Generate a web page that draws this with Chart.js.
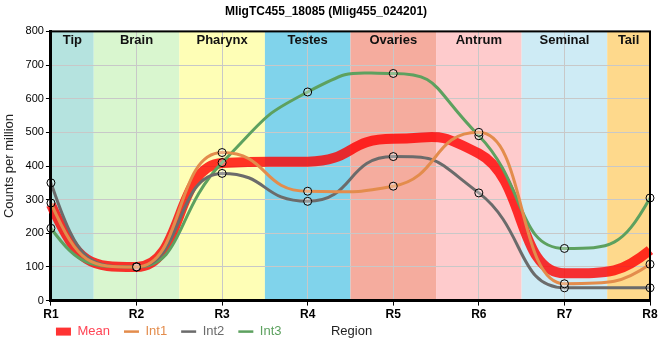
<!DOCTYPE html>
<html>
<head>
<meta charset="utf-8">
<script src="https://cdn.jsdelivr.net/npm/chart.js@4/dist/chart.umd.min.js"></script>
<style>
  html, body { margin: 0; padding: 0; background: #fff; }
  #wrap { width: 660px; height: 360px; }
</style>
</head>
<body>
<div id="wrap"><canvas id="chart"></canvas></div>
<script>
// Datos del gráfico
const regiones = ['R1', 'R2', 'R3', 'R4', 'R5', 'R6', 'R7', 'R8'];
const zonas = ['Tip', 'Brain', 'Pharynx', 'Testes', 'Ovaries', 'Antrum', 'Seminal', 'Tail'];
const coloresZonas = ['#b5e3df', '#d9f6cf', '#fefeb6', '#80d3eb', '#f5ac9e', '#fecbcc', '#ceebf5', '#fed98c'];
const int1 = [290, 100, 440, 325, 340, 500, 50, 108];
const int2 = [350, 100, 378, 295, 428, 320, 38, 38];
const int3 = [215, 100, 410, 620, 675, 490, 155, 305];
const media = [285, 100, 409, 413, 481, 437, 81, 150];
const ticksY = [0, 100, 200, 300, 400, 500, 600, 700, 800];

const fuente = "'Liberation Sans', Arial, sans-serif";
const PAD_LEYENDA = 14;

// Bandas de fondo por región anatómica
const bandasPlugin = {
    id: 'bandas',
    afterLayout(chart) {
        // la leyenda arranca junto al eje Y y comparte fila con el título del eje X
        chart.legend.left = chart.chartArea.left + 5 - PAD_LEYENDA;
        chart.legend.top = chart.chartArea.bottom + 31 - PAD_LEYENDA - 6.5;
    },
    beforeDraw(chart) {
        const { ctx, chartArea, scales } = chart;
        const x = scales.x;
        ctx.save();
        zonas.forEach((z, i) => {
            const x0 = Math.max(chartArea.left, x.getPixelForValue(i - 0.5));
            const x1 = Math.min(chartArea.right, x.getPixelForValue(i + 0.5));
            ctx.fillStyle = coloresZonas[i];
            ctx.fillRect(x0, chartArea.top, x1 - x0, chartArea.bottom - chartArea.top);
        });
        ctx.restore();
    },
    beforeDatasetDraw(chart, args) {
        // curvas más "escalonadas": se alargan los puntos de control del spline monótono
        const meta = args.meta;
        meta.dataset.updateControlPoints(chart.chartArea, meta.iScale.axis);
        const pts = meta.data;
        const n = pts.length;
        const k = 0.55;
        for (let i = 1; i < n - 1; i++) {
            const p = pts[i];
            const dx = p.cp2x - p.x;
            const m = Math.abs(dx) > 1e-6 ? (p.cp2y - p.y) / dx : 0;
            const dPrev = p.x - pts[i - 1].x;
            const dNext = pts[i + 1].x - p.x;
            p.cp1x = p.x - k * dPrev;
            p.cp1y = p.y - k * dPrev * m;
            p.cp2x = p.x + k * dNext;
            p.cp2y = p.y + k * dNext * m;
        }
        // extremos: salida/llegada más pronunciada
        pts[0].cp2y = pts[1].y;
        pts[n - 1].cp1y = pts[n - 2].y;
    },
    afterDraw(chart) {
        const { ctx, chartArea, scales } = chart;
        const x = scales.x;
        ctx.save();
        ctx.font = "bold 13px " + fuente;
        ctx.fillStyle = '#111';
        ctx.textAlign = 'center';
        ctx.textBaseline = 'top';
        zonas.forEach((z, i) => {
            const x0 = Math.max(chartArea.left, x.getPixelForValue(i - 0.5));
            const x1 = Math.min(chartArea.right, x.getPixelForValue(i + 0.5));
            ctx.fillText(z, (x0 + x1) / 2, chartArea.top + 3);
        });
        // marco del área
        ctx.strokeStyle = '#000';
        ctx.lineWidth = 2;
        ctx.strokeRect(chartArea.left, chartArea.top, chartArea.right - chartArea.left, chartArea.bottom - chartArea.top);
        // título del eje X en la misma fila que la leyenda
        ctx.font = "13px " + fuente;
        ctx.fillStyle = '#222';
        ctx.textAlign = 'left';
        ctx.textBaseline = 'middle';
        ctx.fillText('Region', chartArea.left + 280, chartArea.bottom + 31);
        ctx.restore();
    }
};

const colores = { media: 'rgba(255,0,0,0.8)', int1: '#e38c4c', int2: '#6b6b6b', int3: '#5da15f' };

function serie(label, data, color) {
    return {
        label: label,
        data: data,
        borderColor: color,
        borderWidth: 3,
        pointRadius: 4,
        pointBorderColor: '#000',
        pointBorderWidth: 1,
        pointBackgroundColor: 'rgba(255,255,255,0.3)',
        cubicInterpolationMode: 'monotone',
        fill: false,
        clip: false,
        order: 0
    };
}

new Chart(document.getElementById('chart'), {
    type: 'line',
    data: {
        labels: regiones,
        datasets: [
            {
                label: 'Mean',
                data: media,
                borderColor: colores.media,
                borderWidth: 10,
                pointRadius: 0,
                cubicInterpolationMode: 'monotone',
                fill: false,
                order: 1
            },
            serie('Int1', int1, colores.int1),
            serie('Int2', int2, colores.int2),
            serie('Int3', int3, colores.int3)
        ]
    },
    options: {
        responsive: true,
        maintainAspectRatio: false,
        animation: false,
        layout: { padding: { left: 2, right: 10, top: 0, bottom: 16 } },
        scales: {
            x: {
                offset: false,
                grid: { color: '#c8c8c8', tickColor: '#000', tickLength: 5, drawOnChartArea: true },
                border: { color: '#000', width: 3 },
                ticks: { color: '#000', font: { family: fuente, size: 12, weight: 'bold' }, padding: 2 }
            },
            y: {
                min: 0,
                max: 800,
                afterBuildTicks(scale) { scale.ticks = ticksY.map(v => ({ value: v })); },
                grid: { color: '#c8c8c8', tickColor: '#000', tickLength: 5 },
                border: { color: '#000', width: 3 },
                ticks: { color: '#000', font: { family: fuente, size: 11 }, padding: 2 },
                title: { display: true, text: 'Counts per million', color: '#222', font: { family: fuente, size: 13 }, padding: { top: 0, bottom: 6 } }
            }
        },
        plugins: {
            title: {
                display: true,
                text: 'MligTC455_18085 (Mlig455_024201)',
                color: '#000',
                font: { family: fuente, size: 12, weight: 'bold' },
                padding: { top: 4, bottom: 13 }
            },
            legend: {
                position: 'bottom',
                align: 'start',
                maxHeight: 20,
                labels: {
                    usePointStyle: true,
                    boxHeight: 8,
                    pointStyleWidth: 15,
                    padding: PAD_LEYENDA,
                    font: { family: fuente, size: 13 },
                    generateLabels(chart) {
                        return chart.data.datasets.map((ds, i) => ({
                            text: ds.label,
                            datasetIndex: i,
                            fillStyle: i === 0 ? '#ff3333' : ds.borderColor,
                            strokeStyle: i === 0 ? '#ff3333' : ds.borderColor,
                            fontColor: i === 0 ? '#ff4455' : ds.borderColor,
                            lineWidth: i === 0 ? 0 : 2.5,
                            pointStyle: i === 0 ? 'rect' : 'line',
                            hidden: false
                        }));
                    }
                }
            },
            tooltip: { enabled: false }
        }
    },
    plugins: [bandasPlugin]
});
</script>
</body>
</html>
